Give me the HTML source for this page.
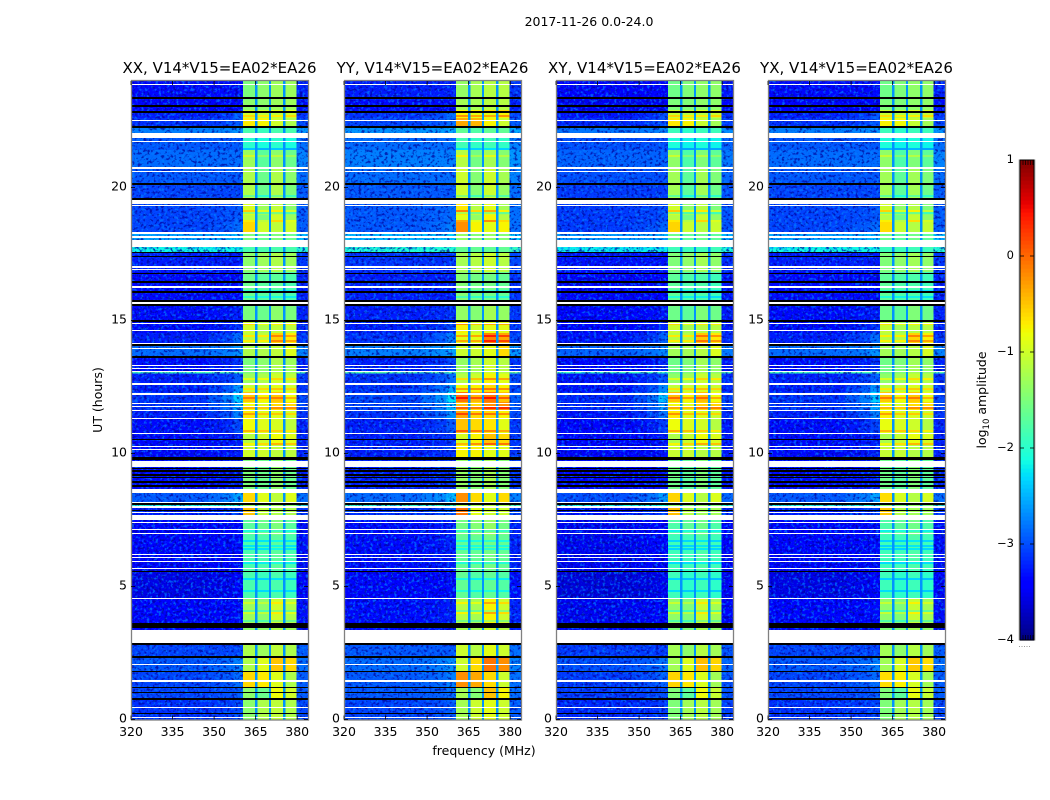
<!DOCTYPE html>
<html>
<head>
<meta charset="utf-8">
<title>2017-11-26 0.0-24.0</title>
<style>
html,body{margin:0;padding:0;background:#fff}
svg{display:block}
text{font-family:"DejaVu Sans","Liberation Sans",sans-serif;fill:#000}
</style>
</head>
<body>
<svg id="chart" xmlns="http://www.w3.org/2000/svg" width="1050" height="800" viewBox="0 0 1050 800">
  <defs>
    <filter id="speckle" x="0" y="0" width="100%" height="100%" color-interpolation-filters="sRGB">
      <feTurbulence type="fractalNoise" baseFrequency="0.34 0.36" numOctaves="2" seed="4"/>
      <feColorMatrix type="matrix" values="0 0 0 0 0  0 0 0 0 0.5  0 0 0 0 1  5 0 0 0 -2.55"/>
    </filter>
    <filter id="speckle-dark" x="0" y="0" width="100%" height="100%" color-interpolation-filters="sRGB">
      <feTurbulence type="fractalNoise" baseFrequency="0.34 0.36" numOctaves="2" seed="11"/>
      <feColorMatrix type="matrix" values="0 0 0 0 0  0 0 0 0 0  0 0 0 0 0.6  5 0 0 0 -2.6"/>
    </filter>
  </defs>
  <rect x="0" y="0" width="1050" height="800" fill="#fff"/>
  <text x="589" y="26" font-size="12.5" text-anchor="middle">2017-11-26 0.0-24.0</text>
  <g id="panels"></g>
  <text x="102" y="400" font-size="12.5" text-anchor="middle" transform="rotate(-90 102 400)">UT (hours)</text>
  <text x="484" y="755" font-size="12.5" text-anchor="middle">frequency (MHz)</text>
  <g id="colorbar"></g>
  <text x="986" y="400" font-size="12.5" text-anchor="middle" transform="rotate(-90 986 400)">log<tspan font-size="8.5" dy="3">10</tspan><tspan dy="-3"> amplitude</tspan></text>
</svg>
<script>
// ---- data (log10 amplitude) ----
var panelTitles = ['XX, V14*V15=EA02*EA26', 'YY, V14*V15=EA02*EA26', 'XY, V14*V15=EA02*EA26', 'YX, V14*V15=EA02*EA26'];
var xTicks = [320, 335, 350, 365, 380];
var yTicks = [0, 5, 10, 15, 20];
var cbarTicks = [1, 0, -1, -2, -3, -4];
var cbarMinorTicks = [0.98, 0.96, 0.94, 0.92, 0.9, -3.9, -3.92, -3.94, -3.96, -3.98];

var timeEdges = [24,23.29,22.84,22.61,22.27,22.05,21.41,20.73,20.09,19.53,18.97,18.70,18.33,17.76,17.58,16.82,15.77,15.02,14.53,14.15,13.63,13.06,13.00,12.61,12.31,11.94,11.64,11.33,10.77,10.32,9.83,8.67,8.14,7.95,7.69,6.94,5.62,4.57,3.55,2.84,2.35,1.82,1.22,0.77,0];
var outBand = [-3.3,-3.4,-3.2,-3.1,-2.7,-2.9,-2.8,-2.9,-3.0,-3.0,-3.0,-3.0,-2.5,-2.1,-3.2,-3.3,-3.3,-3.3,-3.2,-2.8,-3.3,-1.8,-3.2,-3.2,-3.1,-3.1,-3.2,-3.3,-3.3,-3.3,-3.3,-2.9,-2.0,-3.2,-3.4,-3.4,-3.5,-3.4,-3.4,-3.0,-2.9,-3.0,-3.0,-3.1];
var edgeGlow = [-3.3,-3.4,-2.9,-2.9,-2.6,-2.9,-2.8,-2.9,-3.0,-2.9,-2.9,-2.8,-2.4,-2.1,-3.2,-3.3,-3.2,-3.1,-2.8,-2.6,-3.1,-1.8,-2.9,-2.6,-2.3,-2.5,-2.7,-3.0,-3.2,-3.2,-3.2,-2.5,-2.0,-3.0,-3.3,-3.3,-3.4,-3.3,-3.3,-3.0,-2.7,-2.8,-2.9,-3.0];
var subband1 = [-1.3,-1.2,-0.8,-0.5,-1.6,-1.8,-1.1,-1.0,-1.0,-0.75,-0.9,-0.4,-1.3,-1.6,-1.2,-1.4,-1.3,-0.8,-0.9,-1.0,-1.3,-1.3,-1.1,-0.85,-0.3,-0.6,-0.5,-0.6,-0.95,-0.8,-1.3,-0.4,-1.1,-0.3,-1.5,-1.6,-1.6,-1.1,-1.2,-1.0,-1.0,-0.4,-1.2,-1.2];
var subband2 = [-1.2,-1.2,-0.9,-0.55,-1.7,-1.9,-1.5,-1.4,-1.4,-1.1,-1.3,-0.8,-1.4,-1.6,-1.1,-1.5,-1.4,-1.0,-0.9,-1.0,-1.2,-1.2,-1.0,-0.8,-0.55,-0.7,-0.7,-0.7,-0.8,-0.8,-1.4,-0.7,-1.2,-0.9,-1.4,-1.6,-1.7,-1.2,-1.2,-1.1,-0.7,-0.5,-1.4,-1.0];
var subband3 = [-1.1,-1.1,-0.9,-0.8,-1.6,-1.8,-1.2,-1.0,-1.0,-0.9,-0.8,-0.9,-1.3,-1.6,-1.0,-1.5,-1.2,-0.9,-0.35,-0.9,-1.0,-1.0,-0.8,-0.7,-0.3,-0.4,-0.7,-0.75,-0.6,-0.9,-1.2,-0.9,-1.1,-1.0,-1.3,-1.5,-1.6,-0.8,-1.0,-0.9,-0.3,-0.7,-0.6,-0.9];
var subband4 = [-1.1,-1.1,-0.8,-1.0,-1.6,-1.9,-1.4,-1.2,-1.3,-1.2,-1.1,-0.8,-1.4,-1.6,-1.1,-1.6,-1.3,-0.9,-0.5,-0.7,-1.1,-1.1,-0.9,-0.8,-0.6,-0.4,-0.8,-0.9,-0.7,-0.9,-1.4,-0.7,-1.2,-1.0,-1.5,-1.6,-1.7,-1.0,-1.1,-1.0,-0.4,-1.0,-0.8,-1.0];

var stripeHours = [22.91,22.73,21.48,21.2,19.72,19.15,19.08,18.78,16.15,15.92,14.9,14.45,14.27,12.84,12.46,12.12,11.75,11.52,10.88,10.39,7.12,6.75,6.56,6.45,5.92,5.32,4.87,4.42,4.12,4.04,3.74];
var stripeDelta = [0.4,0.4,-0.4,0.3,-0.4,0.4,-0.4,0.4,-0.4,-0.4,0.4,0.4,0.4,0.4,0.4,0.4,0.4,0.4,0.4,0.4,-0.4,-0.45,-0.45,-0.45,-0.4,-0.45,-0.4,0.3,-0.4,0.3,-0.4];

var polOutOffset = [-0.05, 0.05, -0.1, -0.05];
var polBandOffset = [-0.2, -0.05, -0.28, -0.28];
var polBrightGain = [0, 0.35, 0.15, 0.08];

var gapLevel = -2.65;
var rightBandOffset = 0.12;

var whiteStart = [23.89,22.54,22.05,21.75,20.75,20.62,19.51,19.44,19.34,18.31,18.16,18.03,17.03,16.95,16.28,15.71,14.91,14.64,14.17,13.98,13.33,13.21,13.10,12.63,12.26,11.90,11.79,11.64,11.33,10.77,10.28,10.17,9.70,8.67,8.16,8.01,7.80,7.69,7.44,7.16,7.01,6.22,6.11,5.96,5.71,4.57,3.36,2.09,1.50,0.47,0.09];
var whiteEnd   = [23.84,22.48,21.84,21.70,20.69,20.58,19.47,19.38,19.30,18.25,18.10,17.76,16.97,16.90,16.22,15.62,14.87,14.60,14.12,13.93,13.29,13.18,13.06,12.56,12.20,11.86,11.75,11.60,11.30,10.73,10.24,10.13,9.49,8.52,8.10,7.95,7.76,7.50,7.39,7.12,6.97,6.18,6.07,5.92,5.66,4.53,2.88,2.05,1.41,0.43,0.06];
var blackStart = [23.38,23.08,22.86,22.29,20.15,19.59,17.59,17.44,16.80,16.47,16.09,15.77,15.62,15.00,14.10,13.65,10.56,9.85,9.47,9.36,9.21,9.12,8.95,8.82,8.12,7.89,5.60,3.61,2.86,2.39,1.84,1.24,1.05,0.79,0.26];
var blackEnd   = [23.33,23.03,22.80,22.24,20.09,19.53,17.54,17.39,16.75,16.41,16.03,15.71,15.56,14.94,14.04,13.57,10.51,9.74,9.42,9.30,9.15,9.08,8.89,8.74,8.06,7.84,5.55,3.44,2.80,2.31,1.79,1.18,1.00,0.73,0.21];

// ---- layout ----
var SVG_NS = 'http://www.w3.org/2000/svg';
var panelLefts = [131, 344, 556, 768];
var plotWidth = 177, plotTop = 81, plotBottom = 719.5;
var freqMin = 320, pxPerMHz = 2.77, hourMax = 24;
var cbarLeft = 1020, cbarRight = 1034, cbarTop = 160, cbarBottom = 640, cbarMin = -4, cbarMax = 1;

function xScale(panelIndex, f) { return panelLefts[panelIndex] + (f - freqMin) * pxPerMHz; }
function yScale(h) { return plotBottom - (h / hourMax) * (plotBottom - plotTop); }
function cbarScale(v) { return cbarBottom - (v - cbarMin) / (cbarMax - cbarMin) * (cbarBottom - cbarTop); }

var jetRed = [[0,0],[0.35,0],[0.66,1],[0.89,1],[1,0.5]];
var jetGreen = [[0,0],[0.125,0],[0.375,1],[0.64,1],[0.91,0],[1,0]];
var jetBlue = [[0,0.5],[0.11,1],[0.34,1],[0.65,0],[1,0]];
function ramp(stops, t) {
  for (var i = 1; i < stops.length; i++) {
    if (t <= stops[i][0]) {
      return stops[i - 1][1] + (stops[i][1] - stops[i - 1][1]) * (t - stops[i - 1][0]) / (stops[i][0] - stops[i - 1][0]);
    }
  }
  return stops[stops.length - 1][1];
}
function jet(v) {
  var t = Math.max(0, Math.min(1, (v - cbarMin) / (cbarMax - cbarMin)));
  return 'rgb(' + Math.round(255 * ramp(jetRed, t)) + ',' + Math.round(255 * ramp(jetGreen, t)) + ',' + Math.round(255 * ramp(jetBlue, t)) + ')';
}
function make(tag, parent, attrs) {
  var el = document.createElementNS(SVG_NS, tag);
  for (var k in attrs) { el.setAttribute(k, attrs[k]); }
  parent.appendChild(el);
  return el;
}

var panelsGroup = document.getElementById('panels');
var panelKeys = ['xx', 'yy', 'xy', 'yx'];
panelTitles.forEach(function (title, p) {
  var g = make('g', panelsGroup, {});
  
  
  var right = panelLefts[p] + plotWidth;

  function inBand(v) { return v + polBandOffset[p] + polBrightGain[p] * Math.max(0, v + 1.1); }
  function outside(v) { return v + polOutOffset[p]; }
  function rowLevels(i) {
    return [
      outside(outBand[i]),
      outside(outBand[i] * 0.75 + edgeGlow[i] * 0.25),
      outside(outBand[i] * 0.5 + edgeGlow[i] * 0.5),
      outside(edgeGlow[i]),
      inBand(subband1[i]), gapLevel, inBand(subband2[i]), gapLevel,
      inBand(subband3[i]), gapLevel, inBand(subband4[i]),
      outside(outBand[i]) + rightBandOffset
    ];
  }
  var columnFreqs = [320, 348, 353, 357, 360.4, 364.8, 365.6, 369.8, 370.6, 374.9, 375.7, 379.8, 384];
  for (var i = 0; i < outBand.length; i++) {
    var levels = rowLevels(i);
    for (var c = 0; c < levels.length; c++) {
      var x0 = c === 0 ? panelLefts[p] : xScale(p, columnFreqs[c]);
      var x1 = c === levels.length - 1 ? right : xScale(p, columnFreqs[c + 1]);
      var y0 = yScale(timeEdges[i]);
      var y1 = yScale(timeEdges[i + 1]);
      var cell = make('rect', g, { x: x0, y: y0, width: x1 - x0, height: y1 - y0, fill: jet(levels[c]), 'shape-rendering': 'crispEdges' });
      
      
    }
  }

  // in-band horizontal stripes
  stripeHours.forEach(function (h, k) {
    var idx = 0;
    while (idx < outBand.length - 1 && timeEdges[idx + 1] > h) { idx++; }
    var sbValues = [subband1[idx], subband2[idx], subband3[idx], subband4[idx]];
    sbValues.forEach(function (val, sb) {
      var f0 = columnFreqs[4 + sb * 2];
      var f1 = columnFreqs[5 + sb * 2];
      var st = make('rect', g, { x: xScale(p, f0), y: Math.round(yScale(h)), width: (f1 - f0) * pxPerMHz, height: 2, fill: jet(inBand(val + stripeDelta[k])), 'shape-rendering': 'crispEdges' });
      
      
    });
  });

  // speckle texture outside the observing bands
  var bandStart = xScale(p, columnFreqs[4]);
  var bandEnd = xScale(p, columnFreqs[11]);
  [['url(#speckle)', 0.7, 'noise-texture-light'], ['url(#speckle-dark)', 0.7, 'noise-texture-dark']].forEach(function (spec) {
    var left = make('rect', g, { x: panelLefts[p], y: plotTop, width: bandStart - panelLefts[p], height: plotBottom - plotTop, filter: spec[0], opacity: spec[1] });
    
    
    var rgt = make('rect', g, { x: bandEnd, y: plotTop, width: right - bandEnd, height: plotBottom - plotTop, filter: spec[0], opacity: spec[1] });
    
    
  });

  // flagged rows
  whiteStart.forEach(function (h, k) {
    var y0 = Math.round(yScale(h)), y1 = yScale(whiteEnd[k]);
    var w = make('rect', g, { x: panelLefts[p], y: y0, width: plotWidth, height: Math.max(1, Math.round(y1 - y0)), fill: '#fff', 'shape-rendering': 'crispEdges' });
    
    
  });
  blackStart.forEach(function (h, k) {
    var y0 = Math.round(yScale(h)), y1 = yScale(blackEnd[k]);
    var b = make('rect', g, { x: panelLefts[p], y: y0, width: plotWidth, height: Math.max(1, Math.round(y1 - y0)), fill: '#000', 'shape-rendering': 'crispEdges' });
    
    
  });

  // frame
  var frame = make('rect', g, { x: panelLefts[p] + 0.5, y: plotTop - 0.5, width: plotWidth, height: plotBottom + 0.5 - (plotTop - 0.5), fill: 'none', stroke: '#808080', 'stroke-width': 1.3 });
  
  

  // x ticks
  xTicks.forEach(function (f) {
    var x = xScale(p, f);
    var t1 = make('line', g, { x1: x, x2: x, y1: plotBottom, y2: plotBottom - 4, stroke: '#000', 'stroke-width': 0.8 });
    
    
    var t2 = make('line', g, { x1: x, x2: x, y1: plotTop, y2: plotTop + 4, stroke: '#000', 'stroke-width': 0.8 });
    
    
    var lab = make('text', g, { x: x, y: 736, 'font-size': 12.5, 'text-anchor': 'middle' });
    
    
    lab.textContent = f;
  });

  // y ticks
  yTicks.forEach(function (h) {
    var y = yScale(h);
    var t1 = make('line', g, { x1: panelLefts[p], x2: panelLefts[p] + 4, y1: y, y2: y, stroke: '#000', 'stroke-width': 0.8 });
    
    
    var t2 = make('line', g, { x1: right, x2: right - 4, y1: y, y2: y, stroke: '#000', 'stroke-width': 0.8 });
    
    
    var lab = make('text', g, { x: panelLefts[p] - 4, y: y + 3, 'font-size': 12.5, 'text-anchor': 'end' });
    
    
    lab.textContent = h;
  });

  var ttl = make('text', g, { x: panelLefts[p] + plotWidth / 2, y: 73, 'font-size': 15, 'text-anchor': 'middle' });
  
  
  ttl.textContent = title;
});

// colour bar
var cbarGroup = document.getElementById('colorbar');
var steps = 120;
for (var s = 0; s < steps; s++) {
  var vLow = cbarMin + (cbarMax - cbarMin) * s / steps;
  var vHigh = cbarMin + (cbarMax - cbarMin) * (s + 1) / steps;
  var swatch = make('rect', cbarGroup, { x: cbarLeft, y: cbarScale(vHigh), width: cbarRight - cbarLeft, height: cbarScale(vLow) - cbarScale(vHigh) + 0.6, fill: jet((vLow + vHigh) / 2) });
  
  
}
var cbOuter = make('rect', cbarGroup, { x: cbarLeft - 1, y: cbarTop, width: cbarRight - cbarLeft + 2, height: cbarBottom - cbarTop, fill: 'none', stroke: '#bdbdbd', 'stroke-width': 1 });


var cbFrame = make('rect', cbarGroup, { x: cbarLeft, y: cbarTop, width: cbarRight - cbarLeft, height: cbarBottom - cbarTop, fill: 'none', stroke: '#000', 'stroke-width': 1 });


cbarTicks.forEach(function (v) {
  var y = cbarScale(v);
  var l = make('line', cbarGroup, { x1: cbarLeft, x2: cbarLeft + 4, y1: y, y2: y, stroke: '#000', 'stroke-width': 0.8 });
  
  
  var r = make('line', cbarGroup, { x1: cbarRight, x2: cbarRight - 4, y1: y, y2: y, stroke: '#000', 'stroke-width': 0.8 });
  
  
  var lab = make('text', cbarGroup, { x: 1014, y: y + 3, 'font-size': 11.5, 'text-anchor': 'end' });
  
  
  lab.textContent = v < 0 ? '\u2212' + Math.abs(v) : String(v);
});
cbarMinorTicks.forEach(function (v, k) {
  var x = cbarLeft + 3 + (k % 5) * 2.5;
  var isTop = v > 0;
  var m = make('line', cbarGroup, { x1: x, x2: x, y1: isTop ? cbarTop : cbarBottom, y2: isTop ? cbarTop + 5 : cbarBottom - 5, stroke: '#000', 'stroke-width': 0.7 });
  
  
  var dot = make('rect', cbarGroup, { x: x - 4, y: 646, width: 1, height: 1, fill: '#999' });
  
  
});
</script>
</body>
</html>
